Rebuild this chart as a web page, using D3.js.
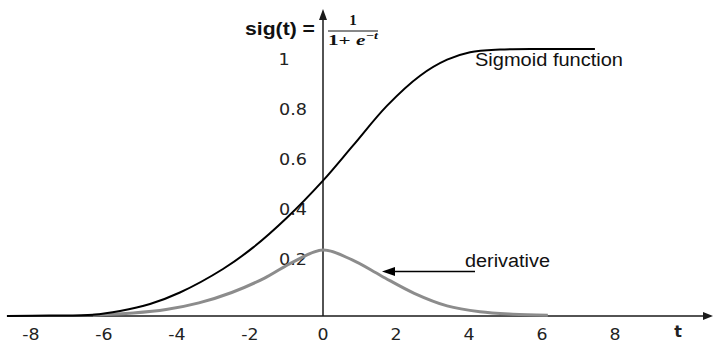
<!DOCTYPE html>
<html>
<head>
<meta charset="utf-8">
<script src="https://cdn.jsdelivr.net/npm/d3@7"></script>
<style>
  html, body { margin: 0; padding: 0; background: #fff; }
  svg { display: block; }
</style>
</head>
<body>
<svg id="chart" width="713" height="344"></svg>
<script>
// Sigmoid curve samples (t, value)
const sigmoidT = [-8.66, -7.5, -6.3, -5.56, -4.74, -3.92, -2.74, -1.92, -0.99, 0, 0.82, 1.75, 2.66, 3.4, 4.03, 4.85, 6, 7.45];
const sigmoidV = [0, 0.002, 0.005, 0.019, 0.045, 0.088, 0.176, 0.256, 0.368, 0.507, 0.638, 0.787, 0.9, 0.96, 0.988, 0.998, 1.0, 1.0];

// Derivative curve samples (t, value)
const derivT = [-6.3, -5.2, -4.3, -3.4, -2.5, -1.6, -0.8, 0, 0.8, 1.6, 2.5, 3.4, 4.3, 5.2, 6.16];
const derivV = [0.003, 0.011, 0.024, 0.049, 0.088, 0.142, 0.204, 0.247, 0.21, 0.15, 0.085, 0.038, 0.016, 0.007, 0.003];

// Axis tick labels
const xTicks = [-8, -6, -4, -2, 0, 2, 4, 6, 8];
const yTicks = [0.2, 0.4, 0.6, 0.8, 1];

const svg = d3.select("#chart");

const x = d3.scaleLinear().domain([-8, 8]).range([31, 615]);
const y = d3.scaleLinear().domain([0, 1]).range([316, 49]);
// y tick labels sit on their own evenly spaced baselines
const yLab = d3.scaleLinear().domain([0.2, 1]).range([265, 65]);

const axisColor = "#1a1a1a";

// x axis with arrow
svg.append("line")
  .attr("x1", 7).attr("x2", 705)
  .attr("y1", y(0)).attr("y2", y(0))
  .attr("stroke", axisColor).attr("stroke-width", 1.5);
svg.append("path")
  .attr("d", `M713,${y(0)} L703,${y(0) - 4} L703,${y(0) + 4} Z`)
  .attr("fill", axisColor);

// y axis with arrow
svg.append("line")
  .attr("x1", x(0)).attr("x2", x(0))
  .attr("y1", y(0)).attr("y2", 18)
  .attr("stroke", axisColor).attr("stroke-width", 1.5);
svg.append("path")
  .attr("d", `M${x(0)},9 L${x(0) - 4},20 L${x(0) + 4},20 Z`)
  .attr("fill", axisColor);

// x tick labels
svg.append("g").selectAll("text")
  .data(xTicks)
  .join("text")
  .attr("transform", d => `translate(${x(d)},340) scale(1.12,1)`)
  .attr("text-anchor", "middle")
  .attr("font-family", "DejaVu Sans")
  .attr("font-size", 15.5)
  .attr("fill", "#222")
  .text(d => d);

svg.append("text")
  .attr("transform", "translate(678,337)")
  .attr("text-anchor", "middle")
  .attr("font-family", "DejaVu Sans")
  .attr("font-weight", "bold")
  .attr("font-size", 16)
  .attr("fill", "#222")
  .text("t");

// y tick labels
svg.append("g").selectAll("text")
  .data(yTicks)
  .join("text")
  .attr("transform", d => `translate(${d === 1 ? 284 : 293},${yLab(d)}) scale(1.1,1)`)
  .attr("text-anchor", "middle")
  .attr("font-family", "DejaVu Sans")
  .attr("font-size", 16)
  .attr("fill", "#222")
  .text(d => d);

// Curves
const line = d3.line()
  .x(d => x(d[0]))
  .y(d => y(d[1]))
  .curve(d3.curveCatmullRom.alpha(0.5));

svg.append("path")
  .datum(derivT.map((t, i) => [t, derivV[i]]))
  .attr("d", line)
  .attr("fill", "none")
  .attr("stroke", "#8c8c8c")
  .attr("stroke-width", 3);

svg.append("path")
  .datum(sigmoidT.map((t, i) => [t, sigmoidV[i]]))
  .attr("d", line)
  .attr("fill", "none")
  .attr("stroke", "#000")
  .attr("stroke-width", 2);

// Curve labels
svg.append("text")
  .attr("x", 475).attr("y", 66)
  .attr("font-family", "Liberation Sans")
  .attr("font-size", 18)
  .attr("textLength", 148)
  .attr("lengthAdjust", "spacingAndGlyphs")
  .attr("fill", "#111")
  .text("Sigmoid function");

svg.append("text")
  .attr("x", 465).attr("y", 267)
  .attr("font-family", "Liberation Sans")
  .attr("font-size", 18)
  .attr("textLength", 85)
  .attr("lengthAdjust", "spacingAndGlyphs")
  .attr("fill", "#111")
  .text("derivative");

// Arrow pointing to the derivative curve
svg.append("line")
  .attr("x1", 475).attr("x2", 392)
  .attr("y1", 271.5).attr("y2", 271.5)
  .attr("stroke", "#000").attr("stroke-width", 1.5);
svg.append("path")
  .attr("d", "M382,271.5 L395,267 L395,276 Z")
  .attr("fill", "#000");

// Formula
svg.append("text")
  .attr("x", 245).attr("y", 35)
  .attr("font-family", "Liberation Sans")
  .attr("font-weight", "bold")
  .attr("font-size", 18)
  .attr("textLength", 70)
  .attr("lengthAdjust", "spacingAndGlyphs")
  .attr("fill", "#111")
  .text("sig(t) =");

svg.append("text")
  .attr("x", 353).attr("y", 25)
  .attr("text-anchor", "middle")
  .attr("font-family", "Liberation Serif")
  .attr("font-weight", "bold")
  .attr("font-size", 15)
  .attr("fill", "#111")
  .text("1");

svg.append("line")
  .attr("x1", 328).attr("x2", 378)
  .attr("y1", 31).attr("y2", 31)
  .attr("stroke", "#111").attr("stroke-width", 1);

const den = svg.append("text")
  .attr("x", 328).attr("y", 45)
  .attr("font-family", "Liberation Serif")
  .attr("font-weight", "bold")
  .attr("font-size", 15)
  .attr("textLength", 50)
  .attr("lengthAdjust", "spacingAndGlyphs")
  .attr("fill", "#111");
den.append("tspan").text("1+ ");
den.append("tspan").attr("font-style", "italic").text("e");
den.append("tspan").attr("font-style", "italic").attr("font-size", 10).attr("dy", -6).text("−t");
</script>
</body>
</html>
